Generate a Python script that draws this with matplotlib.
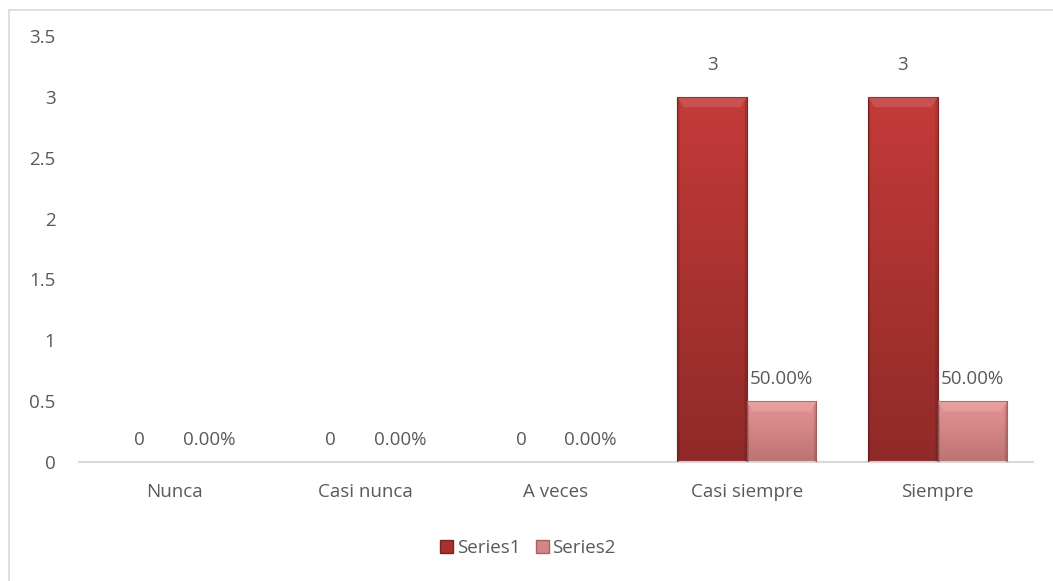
import matplotlib

matplotlib.use("Agg")

import matplotlib.pyplot as plt
import numpy as np
from matplotlib.colors import LinearSegmentedColormap
from matplotlib.patches import Polygon, Rectangle

categories = ["Nunca", "Casi nunca", "A veces", "Casi siempre", "Siempre"]
series1 = [0, 0, 0, 3, 3]
series2 = [0.0, 0.0, 0.0, 0.5, 0.5]
series_names = ["Series1", "Series2"]
y_ticks = [0, 0.5, 1, 1.5, 2, 2.5, 3, 3.5]
y_tick_labels = ["0", "0.5", "1", "1.5", "2", "2.5", "3", "3.5"]

TEXT = "#595959"
BAR_WIDTH = 0.364
FONT_SIZE = 13.5

plt.rcParams["font.family"] = ["Open Sans", "DejaVu Sans"]


def gradient_bar(ax, x0, height, top_color, bottom_color, edge_color):
    if height <= 0:
        return
    cmap = LinearSegmentedColormap.from_list("bar", [bottom_color, top_color])
    grad = np.linspace(0, 1, 128).reshape(-1, 1)
    rect = Rectangle((x0, 0), BAR_WIDTH, height, facecolor="none",
                     edgecolor=edge_color, linewidth=0.8, zorder=3)
    ax.add_patch(rect)
    im = ax.imshow(grad, cmap=cmap, origin="lower", aspect="auto",
                   extent=(x0, x0 + BAR_WIDTH, 0, height), zorder=2)
    im.set_clip_path(rect)
    # bevel: light top strip and darker sides
    bx = BAR_WIDTH * 0.09
    by = 0.085
    top = Polygon([(x0, height), (x0 + BAR_WIDTH, height),
                   (x0 + BAR_WIDTH - bx, height - by), (x0 + bx, height - by)],
                  closed=True, facecolor="white", alpha=0.12, edgecolor="none", zorder=3)
    left = Polygon([(x0, 0), (x0, height), (x0 + bx * 0.35, height - by * 0.5),
                    (x0 + bx * 0.35, 0)],
                   closed=True, facecolor="black", alpha=0.12, edgecolor="none", zorder=3)
    right = Polygon([(x0 + BAR_WIDTH, 0), (x0 + BAR_WIDTH, height),
                     (x0 + BAR_WIDTH - bx * 0.35, height - by * 0.5),
                     (x0 + BAR_WIDTH - bx * 0.35, 0)],
                    closed=True, facecolor="black", alpha=0.12, edgecolor="none", zorder=3)
    for p in (top, left, right):
        ax.add_patch(p)


fig = plt.figure(figsize=(10.53, 5.81), dpi=100)
fig.patches.append(Rectangle((9 / 1053, -0.1), 1.2, (581 - 10) / 581 + 0.1,
                             transform=fig.transFigure, facecolor="none",
                             edgecolor="#d9d9d9", linewidth=1.2))
ax = fig.add_axes([79 / 1053, 119 / 581, (1033 - 79) / 1053, (462 - 36) / 581])

x = np.arange(len(categories))
for i in x:
    gradient_bar(ax, i - BAR_WIDTH, series1[i], "#c43b39", "#8f2a28", "#7a2422")
    gradient_bar(ax, i, series2[i], "#e79494", "#bd7373", "#a56262")
    # taller bars get their label lifted a bit further
    lift1 = 0.19 if series1[i] > 1 else 0.11
    ax.text(i - BAR_WIDTH / 2, series1[i] + lift1, f"{series1[i]:g}",
            ha="center", va="bottom", fontsize=FONT_SIZE, color=TEXT)
    ax.text(i + BAR_WIDTH / 2, series2[i] + 0.11, f"{series2[i]:.2%}",
            ha="center", va="bottom", fontsize=FONT_SIZE, color=TEXT)

ax.set_xlim(-0.5, len(categories) - 0.5)
ax.set_ylim(0, 3.5)
ax.set_yticks(y_ticks, y_tick_labels)
ax.set_xticks(x, categories)
ax.tick_params(axis="both", length=0, labelsize=FONT_SIZE, labelcolor=TEXT)
ax.tick_params(axis="y", pad=17)
ax.tick_params(axis="x", pad=15)
for side in ("top", "right", "left"):
    ax.spines[side].set_visible(False)
ax.spines["bottom"].set_color("#d9d9d9")
ax.spines["bottom"].set_linewidth(1.5)

handles = [Rectangle((0, 0), 1, 1, facecolor="#a8302e", edgecolor="#7a2422"),
           Rectangle((0, 0), 1, 1, facecolor="#d58585", edgecolor="#a56262")]
fig.legend(handles, series_names, loc="center", bbox_to_anchor=(528 / 1053, 1 - 548 / 581),
           ncol=2, frameon=False, fontsize=FONT_SIZE, labelcolor=TEXT,
           handlelength=0.7, handleheight=0.7, handletextpad=0.2, columnspacing=0.8)

fig.savefig("out.png", dpi=100)
